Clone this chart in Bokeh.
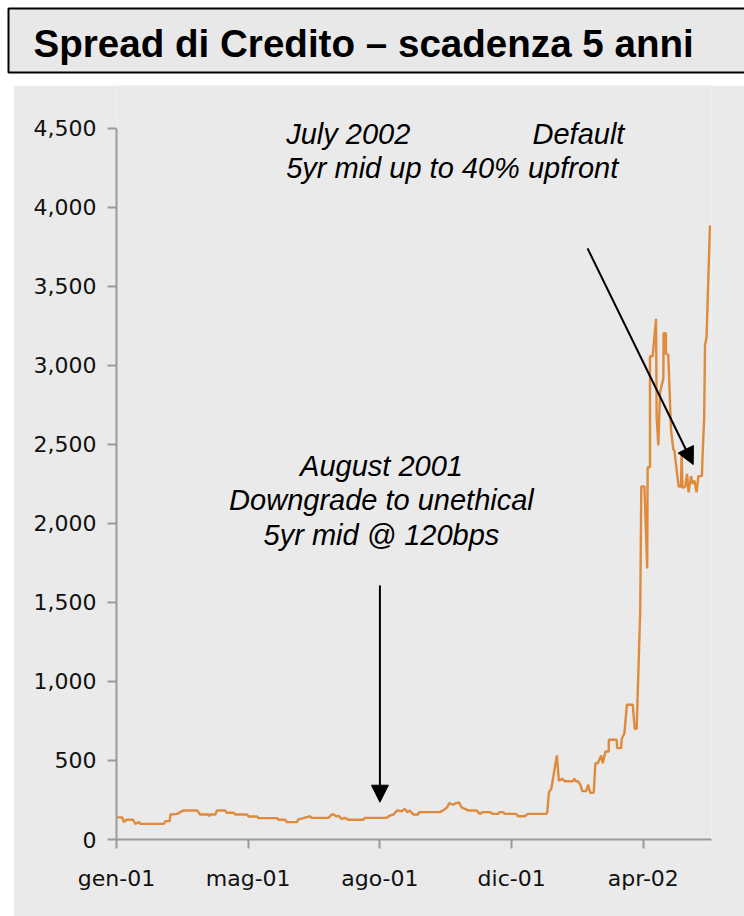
from bokeh.plotting import figure
from bokeh.models import (Range1d, FixedTicker, NumeralTickFormatter, Label, Arrow, NormalHead)
from bokeh.core.properties import value
from bokeh.embed import file_html
from bokeh.resources import INLINE

# ---- data (business-day index since gen-01, 5yr spread in bps) ----
DAY_IDX = [0, 3.7, 4.7, 6.4, 10.7, 12.2, 14.4, 15.5, 30.5, 31.6, 34.3, 34.8, 39.1, 41.2, 43.4, 52, 54.1,
           59.3, 59.9, 60.5, 63.8, 64.8, 70.2, 71.2, 75.6, 76.6, 84.2, 85.2, 90.6, 91.7, 103.5, 104.6,
           108.8, 109.9, 116.4, 117.4, 120.6, 124.9, 126, 136.7,
           138.9, 140.4, 141.7, 143.2, 145.3, 147.5, 149.6, 159.3, 160.4, 174.3, 176.5, 178.6, 181.2,
           184, 186.1, 187.6, 189.3, 191.5, 194.7, 195.3, 208.7, 210.8, 213.4, 214.7, 217.2, 219,
           221.1, 222.6, 224.8, 226.9, 232.3, 234.4, 236.5, 240.9, 243, 246.2, 247.3, 249.4, 250.5,
           258, 259.1, 263.4, 265.5, 277.4, 278,
           279.1, 280.6, 284.2, 285.5, 287.7, 289.2, 294.5, 295.4, 296.2, 297.7, 299.3, 300.6, 303.1,
           304.4, 305.7, 308, 308.5, 309.1, 310.6, 312.8, 313.8, 315.6, 317.7, 317.7, 322.8, 323.1,
           325.7, 326.1, 327.8, 329.4, 333.2, 334.4, 335.7,
           338, 338.7, 340.7, 342.5, 342.8, 344.3, 344.3, 346, 348.2, 348.6, 349.7, 350.8, 352.9,
           353.1, 354.6, 354.6, 356.1, 357.9, 359.4, 360, 362.8, 364.3, 364.7, 365.3, 367.1, 368.2,
           369.2, 370.8, 371.8, 372.9, 374.4, 375.5, 377.8, 378.2, 379.3, 379.8, 380.8, 383]
SPREAD = [140, 140, 110, 125, 125, 99, 110, 99, 99, 116, 116, 158, 162, 173, 184, 184, 158,
          158, 147, 158, 158, 184, 184, 169, 169, 158, 158, 146, 146, 135, 135, 125,
          125, 110, 110, 127, 135, 147, 137, 137,
          158, 158, 146, 150, 131, 137, 125, 125, 137, 137, 152, 158, 184,
          179, 194, 173, 184, 158, 158, 173, 173, 184, 204, 230, 220, 230,
          234, 204, 194, 184, 184, 162, 173, 173, 162, 162, 173, 173, 162,
          162, 147, 147, 162, 162, 173,
          299, 321, 532, 373, 384, 369, 369, 386, 369, 369, 348, 306, 306,
          348, 296, 296, 384, 483, 483, 532, 483, 557, 557, 631, 631, 578,
          578, 637, 673, 853, 853, 701, 701,
          1449, 2234, 2234, 1715, 2356, 2356, 3058, 3058, 3295, 2673, 2494, 2831, 2916,
          3204, 3204, 3073, 3068, 2589, 2466, 2466, 2234, 2234, 2451, 2225, 2234, 2314,
          2198, 2300, 2251, 2272, 2198, 2300, 2300, 2419, 2683, 3127, 3179, 3886]

X_TICKS = [0, 85, 170, 255, 340]
X_TICK_LABELS = ["gen-01", "mag-01", "ago-01", "dic-01", "apr-02"]
Y_TICKS = [0, 500, 1000, 1500, 2000, 2500, 3000, 3500, 4000, 4500]

TITLE = "Spread di Credito – scadenza 5 anni"
NOTE_JULY = ["July 2002", "Default", "5yr mid up to 40% upfront"]
NOTE_AUG = ["August 2001", "Downgrade to unethical", "5yr mid @ 120bps"]

PANEL = "#eaeaea"
TITLE_FILL = "#e8e8e8"
LINE_COLOR = "#e08a3c"
AXIS_COLOR = "#9a9a9a"

# ---- title strip (pixel-like coordinates, y measured upward) ----
t = figure(width=744, height=85, x_range=Range1d(0, 744), y_range=Range1d(0, 85),
           output_backend="svg", toolbar_location=None, min_border=0)
t.axis.visible = False
t.grid.visible = False
t.outline_line_color = None
t.background_fill_color = "white"
t.border_fill_color = "white"
t.quad(left=[8], right=[760], top=[77], bottom=[13], fill_color=TITLE_FILL,
       line_color="black", line_width=2)
t.text(x=[33], y=[42], text=[TITLE], text_font=value("Liberation Sans"),
       text_font_style="bold", text_font_size="38.6px", text_baseline="middle",
       text_color="black")

# ---- main chart ----
p = figure(width=731, height=831, x_range=Range1d(0, 384), y_range=Range1d(0, 4772),
           output_backend="svg", toolbar_location=None,
           min_border_left=103, min_border_right=33, min_border_top=0, min_border_bottom=77,
           margin=(0, 0, 0, 13))
p.background_fill_color = PANEL
p.border_fill_color = PANEL
p.outline_line_color = None
p.grid.visible = False

p.line(DAY_IDX, SPREAD, line_color=LINE_COLOR, line_width=2.4)

for ax in (p.xaxis[0], p.yaxis[0]):
    ax.axis_line_color = AXIS_COLOR
    ax.axis_line_width = 2
    ax.major_tick_line_color = AXIS_COLOR
    ax.major_tick_line_width = 2
    ax.major_tick_out = 9
    ax.major_tick_in = 0
    ax.minor_tick_line_color = None
    ax.major_label_text_font = "DejaVu Sans"
    ax.major_label_text_font_size = "22px"
    ax.major_label_text_color = "#111111"

p.xaxis.ticker = FixedTicker(ticks=X_TICKS)
p.xaxis.major_label_overrides = {k: v for k, v in zip(X_TICKS, X_TICK_LABELS)}
p.xaxis.major_label_standoff = 17
p.yaxis.ticker = FixedTicker(ticks=Y_TICKS)
p.yaxis.bounds = (0, 4500)
p.yaxis.formatter = NumeralTickFormatter(format="0,0")
p.yaxis.major_label_standoff = 11

def note(x, y, txt, align):
    p.add_layout(Label(x=x, y=y, text=txt, text_font="Liberation Sans", text_font_style="italic",
                       text_font_size="29px", text_align=align, text_baseline="alphabetic",
                       text_color="black"))

note(109.5, 4468, NOTE_JULY[0], "left")
note(268.5, 4468, NOTE_JULY[1], "left")
note(109.5, 4253, NOTE_JULY[2], "left")
note(171, 2367, NOTE_AUG[0], "center")
note(171, 2146, NOTE_AUG[1], "center")
note(171, 1924, NOTE_AUG[2], "center")

p.add_layout(Arrow(end=NormalHead(size=17, fill_color="black", line_color="black"),
                   x_start=304, y_start=3741, x_end=372.2, y_end=2373,
                   line_color="black", line_width=2))
p.add_layout(Arrow(end=NormalHead(size=17, fill_color="black", line_color="black"),
                   x_start=170, y_start=1608, x_end=170, y_end=236,
                   line_color="black", line_width=2))

open("out.html", "w").write(file_html([t, p], INLINE))
